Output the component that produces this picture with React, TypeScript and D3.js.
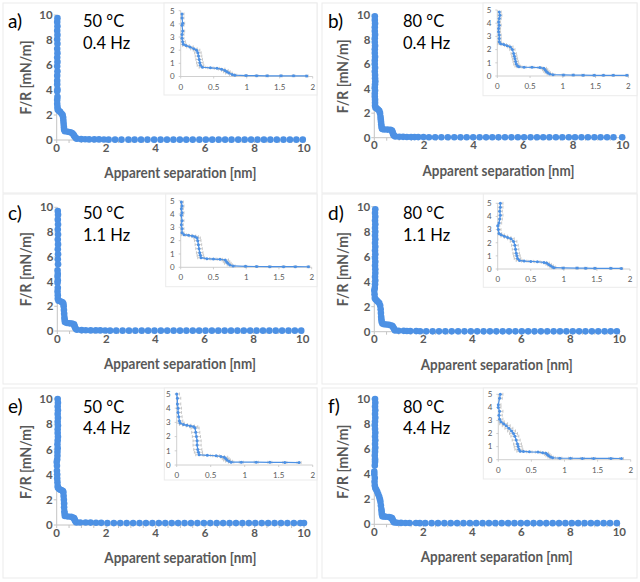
import React from 'react';
import * as d3 from 'd3';

type P = [number, number, number]; // separation [nm], F/R [mN/m], error [nm]

const panelLabels = ['a)', 'b)', 'c)', 'd)', 'e)', 'f)'];
const temperatures = ['50 °C', '80 °C', '50 °C', '80 °C', '50 °C', '80 °C'];
const frequencies = ['0.4 Hz', '0.4 Hz', '1.1 Hz', '1.1 Hz', '4.4 Hz', '4.4 Hz'];

const mainXTicks = [0, 2, 4, 6, 8, 10];
const mainYTicks = [0, 2, 4, 6, 8, 10];
const insetXTicks = [0, 0.5, 1, 1.5, 2];
const insetYTicks = [0, 1, 2, 3, 4, 5];
const insetXTickLabels = ['0', '0.5', '1', '1.5', '2'];

const curveA: P[] = [
  [0.03, 9.75, 0.03], [0.02, 9.45, 0.03], [0.03, 9.1, 0.03], [0.02, 8.75, 0.03], [0.03, 8.4, 0.03],
  [0.02, 8.05, 0.03], [0.03, 7.7, 0.03], [0.02, 7.3, 0.03], [0.03, 6.95, 0.03], [0.02, 6.6, 0.03],
  [0.03, 6.25, 0.03], [0.02, 5.9, 0.03], [0.03, 5.5, 0.03], [0.02, 5.15, 0.03], [0.02, 4.75, 0.03],
  [0.02, 4.45, 0.03], [0.03, 4.05, 0.03], [0.02, 3.9, 0.03], [0.03, 3.45, 0.03], [0.02, 3.2, 0.03],
  [0.02, 2.9, 0.03], [0.03, 2.65, 0.04], [0.04, 2.45, 0.04], [0.08, 2.35, 0.05], [0.14, 2.25, 0.05],
  [0.2, 2.1, 0.05], [0.24, 2.0, 0.05], [0.26, 1.8, 0.05], [0.27, 1.55, 0.05], [0.28, 1.3, 0.05],
  [0.29, 1.05, 0.05], [0.3, 0.85, 0.05], [0.33, 0.7, 0.05], [0.45, 0.66, 0.04], [0.55, 0.62, 0.04],
  [0.62, 0.56, 0.05], [0.67, 0.46, 0.05], [0.7, 0.36, 0.05], [0.73, 0.26, 0.05], [0.78, 0.15, 0.04],
  [0.82, 0.1, 0.03], [0.99, 0.07, 0.02], [1.15, 0.06, 0.02], [1.31, 0.05, 0.02], [1.52, 0.05, 0.02],
  [1.71, 0.05, 0.02], [1.91, 0.04, 0.02],
];

const curveB: P[] = [
  [0.02, 9.9, 0.02], [0.02, 9.6, 0.02], [0.03, 9.3, 0.02], [0.02, 9.0, 0.02], [0.02, 8.7, 0.02],
  [0.03, 8.4, 0.02], [0.02, 8.1, 0.02], [0.02, 7.8, 0.02], [0.03, 7.5, 0.02], [0.02, 7.2, 0.02],
  [0.02, 6.9, 0.02], [0.03, 6.6, 0.02], [0.02, 6.3, 0.02], [0.02, 6.0, 0.02], [0.03, 5.7, 0.02],
  [0.02, 5.4, 0.02], [0.03, 5.1, 0.03], [0.03, 4.85, 0.03], [0.04, 4.6, 0.03], [0.03, 4.35, 0.03],
  [0.02, 4.1, 0.03], [0.03, 3.85, 0.03], [0.02, 3.6, 0.03], [0.02, 3.35, 0.03], [0.03, 3.1, 0.03],
  [0.03, 2.85, 0.03], [0.03, 2.6, 0.03], [0.05, 2.45, 0.04], [0.1, 2.38, 0.04], [0.15, 2.3, 0.04],
  [0.2, 2.2, 0.04], [0.23, 2.0, 0.04], [0.25, 1.7, 0.04], [0.26, 1.5, 0.04], [0.27, 1.3, 0.04],
  [0.28, 1.1, 0.04], [0.29, 0.9, 0.04], [0.31, 0.75, 0.04], [0.33, 0.7, 0.03], [0.41, 0.67, 0.03],
  [0.53, 0.66, 0.03], [0.65, 0.64, 0.03], [0.71, 0.58, 0.04], [0.73, 0.48, 0.04], [0.75, 0.35, 0.04],
  [0.77, 0.25, 0.04], [0.8, 0.15, 0.04], [0.85, 0.1, 0.03], [1.01, 0.08, 0.02], [1.16, 0.07, 0.02],
  [1.31, 0.06, 0.02], [1.48, 0.05, 0.02], [1.62, 0.05, 0.02], [1.77, 0.05, 0.02], [1.98, 0.05, 0.02],
];

const curveC: P[] = [
  [0.02, 9.7, 0.03], [0.03, 9.4, 0.03], [0.02, 9.0, 0.03], [0.03, 8.6, 0.03], [0.02, 8.2, 0.03],
  [0.03, 7.8, 0.03], [0.02, 7.4, 0.03], [0.03, 7.0, 0.03], [0.02, 6.6, 0.03], [0.03, 6.2, 0.03],
  [0.02, 5.8, 0.03], [0.03, 5.4, 0.03], [0.01, 4.9, 0.03], [0.02, 4.6, 0.03], [0.01, 4.4, 0.03],
  [0.02, 4.1, 0.03], [0.01, 3.9, 0.03], [0.02, 3.5, 0.03], [0.01, 3.2, 0.03], [0.02, 2.9, 0.03],
  [0.02, 2.6, 0.03], [0.05, 2.45, 0.04], [0.12, 2.4, 0.05], [0.18, 2.35, 0.05], [0.22, 2.3, 0.05],
  [0.25, 2.2, 0.05], [0.26, 2.0, 0.05], [0.27, 1.7, 0.05], [0.28, 1.4, 0.05], [0.29, 1.1, 0.05],
  [0.3, 0.9, 0.05], [0.31, 0.72, 0.05], [0.4, 0.65, 0.04], [0.5, 0.62, 0.04], [0.6, 0.6, 0.04],
  [0.68, 0.55, 0.05], [0.7, 0.42, 0.05], [0.72, 0.3, 0.05], [0.75, 0.18, 0.04], [0.8, 0.1, 0.03],
  [0.99, 0.07, 0.02], [1.16, 0.06, 0.02], [1.36, 0.05, 0.02], [1.57, 0.05, 0.02], [1.75, 0.05, 0.02],
  [1.95, 0.04, 0.02],
];

const curveD: P[] = [
  [0.04, 9.8, 0.03], [0.03, 9.5, 0.03], [0.04, 9.2, 0.03], [0.03, 8.9, 0.03], [0.04, 8.6, 0.03],
  [0.03, 8.3, 0.03], [0.04, 8.0, 0.03], [0.03, 7.7, 0.03], [0.04, 7.4, 0.03], [0.03, 7.1, 0.03],
  [0.04, 6.8, 0.03], [0.03, 6.5, 0.03], [0.04, 6.2, 0.03], [0.03, 5.9, 0.03], [0.04, 5.6, 0.03],
  [0.03, 5.3, 0.03], [0.04, 5.0, 0.04], [0.04, 4.7, 0.04], [0.03, 4.4, 0.04], [0.04, 4.1, 0.04],
  [0.03, 3.8, 0.04], [0.02, 3.5, 0.04], [0.0, 3.3, 0.03], [0.01, 3.0, 0.04], [0.02, 2.7, 0.04],
  [0.05, 2.6, 0.05], [0.1, 2.5, 0.05], [0.15, 2.4, 0.05], [0.2, 2.3, 0.05], [0.24, 2.1, 0.05],
  [0.26, 1.8, 0.05], [0.27, 1.5, 0.05], [0.28, 1.2, 0.05], [0.29, 1.0, 0.05], [0.3, 0.8, 0.05],
  [0.33, 0.65, 0.05], [0.4, 0.6, 0.04], [0.5, 0.58, 0.04], [0.6, 0.55, 0.04], [0.7, 0.5, 0.04],
  [0.74, 0.45, 0.04], [0.77, 0.35, 0.04], [0.8, 0.25, 0.04], [0.83, 0.15, 0.04], [0.85, 0.1, 0.03],
  [0.99, 0.08, 0.02], [1.2, 0.07, 0.02], [1.33, 0.06, 0.02], [1.47, 0.05, 0.02], [1.71, 0.05, 0.02],
  [1.87, 0.04, 0.02],
];

const curveE: P[] = [
  [0.04, 10.0, 0.04], [0.05, 9.7, 0.04], [0.04, 9.4, 0.04], [0.05, 9.1, 0.04], [0.04, 8.8, 0.04],
  [0.05, 8.5, 0.04], [0.04, 8.2, 0.04], [0.05, 7.9, 0.04], [0.04, 7.6, 0.04], [0.04, 7.3, 0.04],
  [0.05, 7.0, 0.04], [0.04, 6.7, 0.04], [0.03, 6.4, 0.04], [0.04, 6.1, 0.04], [0.03, 5.8, 0.04],
  [0.03, 5.5, 0.04], [0.02, 5.2, 0.04], [0.0, 5.0, 0.04], [0.01, 4.7, 0.05], [0.01, 4.3, 0.05],
  [0.02, 4.0, 0.05], [0.02, 3.7, 0.05], [0.03, 3.4, 0.05], [0.04, 3.1, 0.05], [0.05, 2.95, 0.06],
  [0.1, 2.85, 0.06], [0.15, 2.8, 0.06], [0.2, 2.75, 0.06], [0.25, 2.7, 0.06], [0.27, 2.6, 0.06],
  [0.28, 2.3, 0.06], [0.29, 2.0, 0.06], [0.3, 1.7, 0.06], [0.3, 1.4, 0.06], [0.31, 1.1, 0.06],
  [0.32, 0.9, 0.06], [0.33, 0.72, 0.05], [0.45, 0.68, 0.05], [0.58, 0.65, 0.05], [0.65, 0.6, 0.05],
  [0.7, 0.55, 0.05], [0.72, 0.45, 0.05], [0.74, 0.35, 0.05], [0.77, 0.26, 0.05], [0.8, 0.2, 0.04],
  [0.95, 0.2, 0.03], [1.17, 0.2, 0.03], [1.37, 0.19, 0.03], [1.59, 0.18, 0.03], [1.8, 0.17, 0.03],
];

const curveF: P[] = [
  [0.03, 10.0, 0.04], [0.04, 9.7, 0.04], [0.03, 9.4, 0.04], [0.04, 9.1, 0.04], [0.03, 8.8, 0.04],
  [0.04, 8.5, 0.04], [0.03, 8.2, 0.04], [0.02, 7.9, 0.04], [0.03, 7.6, 0.04], [0.04, 7.3, 0.04],
  [0.03, 7.0, 0.04], [0.04, 6.7, 0.04], [0.03, 6.4, 0.04], [0.04, 6.1, 0.04], [0.03, 5.8, 0.04],
  [0.02, 5.5, 0.04], [0.03, 5.2, 0.04], [0.03, 5.0, 0.04], [0.02, 4.7, 0.04], [0.0, 4.2, 0.04],
  [0.0, 4.0, 0.04], [0.02, 3.7, 0.05], [0.01, 3.4, 0.05], [0.02, 3.1, 0.05], [0.04, 2.9, 0.05],
  [0.08, 2.75, 0.06], [0.12, 2.6, 0.06], [0.16, 2.4, 0.06], [0.2, 2.2, 0.06], [0.23, 2.0, 0.06],
  [0.25, 1.8, 0.06], [0.27, 1.5, 0.06], [0.29, 1.2, 0.06], [0.3, 1.0, 0.06], [0.31, 0.8, 0.06],
  [0.33, 0.65, 0.05], [0.38, 0.63, 0.04], [0.47, 0.6, 0.04], [0.6, 0.58, 0.04], [0.67, 0.53, 0.04],
  [0.72, 0.5, 0.04], [0.74, 0.4, 0.04], [0.76, 0.3, 0.04], [0.79, 0.2, 0.04], [0.82, 0.15, 0.04],
  [0.93, 0.12, 0.03], [1.09, 0.11, 0.03], [1.27, 0.1, 0.03], [1.44, 0.1, 0.03], [1.7, 0.1, 0.03],
  [1.86, 0.09, 0.03],
];

// far-field points (beyond the inset range)
const tailA = [2.1, 2.36, 2.62, 2.9, 3.15, 3.41, 3.67, 3.94, 4.2, 4.46, 4.72, 4.98, 5.24, 5.5, 5.77, 6.03, 6.29, 6.55, 6.81, 7.07, 7.34, 7.6, 7.86, 8.12, 8.38, 8.64, 8.9, 9.17, 9.43, 9.69, 9.95];
const tailB = [2.2, 2.45, 2.7, 2.96, 3.22, 3.47, 3.72, 3.98, 4.24, 4.5, 4.75, 5.0, 5.26, 5.52, 5.78, 6.03, 6.29, 6.55, 6.8, 7.05, 7.31, 7.57, 7.83, 8.08, 8.34, 8.6, 8.86, 9.11, 9.37, 9.63, 9.98];
const tailC = [2.15, 2.4, 2.66, 2.92, 3.18, 3.44, 3.7, 3.96, 4.22, 4.48, 4.74, 5.0, 5.26, 5.52, 5.78, 6.04, 6.3, 6.56, 6.82, 7.08, 7.34, 7.6, 7.86, 8.12, 8.38, 8.64, 8.9, 9.16, 9.42, 9.68, 9.94];
const tailD = [2.12, 2.38, 2.64, 2.9, 3.16, 3.42, 3.68, 3.94, 4.2, 4.46, 4.72, 4.98, 5.24, 5.5, 5.76, 6.02, 6.28, 6.54, 6.8, 7.06, 7.32, 7.58, 7.84, 8.1, 8.36, 8.62, 8.88, 9.14, 9.4, 9.65, 9.9];
const tailE = [2.05, 2.31, 2.57, 2.83, 3.09, 3.35, 3.61, 3.87, 4.13, 4.39, 4.65, 4.91, 5.17, 5.43, 5.69, 5.95, 6.21, 6.47, 6.73, 6.99, 7.25, 7.51, 7.77, 8.03, 8.29, 8.55, 8.81, 9.07, 9.33, 9.59, 9.85, 10.0];
const tailF = [2.08, 2.34, 2.6, 2.86, 3.12, 3.38, 3.64, 3.9, 4.16, 4.42, 4.68, 4.94, 5.2, 5.46, 5.72, 5.98, 6.24, 6.5, 6.76, 7.02, 7.28, 7.54, 7.8, 8.06, 8.32, 8.58, 8.84, 9.1, 9.36, 9.62, 9.9];
const tailLevels = [0.03, 0.04, 0.03, 0.03, 0.15, 0.09];

const curves = [curveA, curveB, curveC, curveD, curveE, curveF];
const tails = [tailA, tailB, tailC, tailD, tailE, tailF];

// ---------- layout (pixels) ----------
const panelOrigins = [[0, 0], [320, 0], [0, 190], [320, 190], [0, 385], [320, 385]];
const panelBoxes = [
  { x: 3, y: 3, w: 314, h: 190 }, { x: 2, y: 3, w: 315, h: 190 },
  { x: 3, y: 4, w: 314, h: 190 }, { x: 2, y: 4, w: 315, h: 190 },
  { x: 3, y: 3, w: 314, h: 190 }, { x: 2, y: 3, w: 315, h: 190 },
];
const mainFrames = [
  { x0: 56.7, x1: 304, y0: 140, y1: 15, tb: 27.5 },
  { x0: 54.3, x1: 302.7, y0: 137.7, y1: 15, tb: 27.5 },
  { x0: 57.3, x1: 302.7, y0: 141, y1: 17.3, tb: 29.5 },
  { x0: 54.3, x1: 299.3, y0: 141.7, y1: 16.7, tb: 29.5 },
  { x0: 56.7, x1: 304, y0: 140, y1: 14, tb: 28.3 },
  { x0: 54.3, x1: 299.3, y0: 139.3, y1: 14, tb: 28.3 },
];
const insetFrames = [
  { x0: 180.7, x1: 312.7, y0: 76.5, y1: 10.7, left: 164, bottom: 95 },
  { x0: 177.3, x1: 308.3, y0: 76, y1: 10, left: 163, bottom: 95.7 },
  { x0: 180.7, x1: 311.7, y0: 77.3, y1: 10.7, left: 165.7, bottom: 96.7 },
  { x0: 177.7, x1: 310, y0: 79, y1: 13.3, left: 163.3, bottom: 97.3 },
  { x0: 176.7, x1: 312.7, y0: 80, y1: 9, left: 164.3, bottom: 95 },
  { x0: 178.3, x1: 310.7, y0: 74.7, y1: 9.3, left: 163.3, bottom: 94 },
];

const BLUE = '#4d91e4';
const AXIS = '#c4c4c4';
const TXT = '#595959';
const FONT = "Lato, 'Open Sans', 'DejaVu Sans', sans-serif";

function Panel({ i }: { i: number }) {
  const [ox, oy] = panelOrigins[i];
  const box = panelBoxes[i];
  const mf = mainFrames[i];
  const inf = insetFrames[i];
  const pts = curves[i];
  const tailPts: P[] = tails[i].map((x) => [x, tailLevels[i], 0.02]);
  const all = [...pts, ...tailPts];

  const xs = d3.scaleLinear().domain([0, 10]).range([mf.x0, mf.x1]);
  const ys = d3.scaleLinear().domain([0, 10]).range([mf.y0, mf.y1]);
  const ixs = d3.scaleLinear().domain([0, 2]).range([inf.x0, inf.x1]);
  const iys = d3.scaleLinear().domain([0, 5]).range([inf.y0, inf.y1]);

  const mainLine = d3.line<P>().x((d) => xs(d[0])).y((d) => ys(d[1]));
  const insetPts = pts.filter((p) => p[0] <= 2 && p[1] <= 5.05);
  const insetLine = d3.line<P>().x((d) => ixs(d[0])).y((d) => iys(d[1]));
  const minorX = d3.range(0, 10.001, 0.5);

  return (
    <g transform={`translate(${ox},${oy})`}>
      <rect x={box.x} y={box.y} width={box.w} height={box.h} fill="#fff" stroke="#ebebeb" strokeWidth={1} />

      {/* main axes */}
      <line x1={xs(0)} x2={xs(10)} y1={ys(0)} y2={ys(0)} stroke={AXIS} strokeWidth={1} />
      <line x1={xs(0)} x2={xs(0)} y1={ys(0)} y2={ys(10)} stroke={AXIS} strokeWidth={1} />
      {minorX.map((t) => (
        <line key={'mx' + t} x1={xs(t)} x2={xs(t)} y1={ys(0)} y2={ys(0) + 3} stroke={AXIS} />
      ))}
      {mainYTicks.map((t) => (
        <line key={'my' + t} x1={xs(0) - 3} x2={xs(0)} y1={ys(t)} y2={ys(t)} stroke={AXIS} />
      ))}
      {mainXTicks.map((t) => (
        <text key={'xl' + t} x={xs(t)} y={ys(0) + 11.5} textAnchor="middle" fontSize={11.5} fontWeight={700} fill={TXT} fontFamily={FONT}>{t}</text>
      ))}
      {mainYTicks.map((t) => (
        <text key={'yl' + t} x={xs(0) - 4} y={ys(t)} dy="0.36em" textAnchor="end" fontSize={11.5} fontWeight={700} fill={TXT} fontFamily={FONT}>{t}</text>
      ))}

      {/* main data */}
      <path d={mainLine(pts) || ''} fill="none" stroke={BLUE} strokeWidth={2} />
      {all.map((p, k) => (
        <circle key={'m' + k} cx={xs(p[0])} cy={ys(p[1])} r={3.3} fill={BLUE} />
      ))}

      {/* axis titles */}
      <text x={(mf.x0 + mf.x1) / 2} y={mf.y0 + 38} textAnchor="middle" fontSize={16} fontWeight={700} fill={TXT} fontFamily={FONT} textLength={152} lengthAdjust="spacingAndGlyphs">Apparent separation [nm]</text>
      <text transform={`translate(${mf.x0 - 26},${(mf.y0 + mf.y1) / 2}) rotate(-90)`} textAnchor="middle" fontSize={15.5} fontWeight={700} fill={TXT} fontFamily={FONT} textLength={74} lengthAdjust="spacingAndGlyphs">F/R [mN/m]</text>

      {/* panel annotations */}
      <text x={8} y={mf.tb} fontSize={19} fill="#000" fontFamily={FONT}>{panelLabels[i]}</text>
      <text x={83} y={mf.tb - 0.5} fontSize={16.5} fill="#000" fontFamily={FONT}>{temperatures[i]}</text>
      <text x={83} y={mf.tb + 21} fontSize={16.5} fill="#000" fontFamily={FONT}>{frequencies[i]}</text>

      {/* inset */}
      <rect x={inf.left} y={box.y} width={box.x + box.w - inf.left} height={inf.bottom - box.y} fill="#fff" stroke="#ebebeb" strokeWidth={1} />
      <line x1={ixs(0)} x2={ixs(2)} y1={iys(0)} y2={iys(0)} stroke={AXIS} strokeWidth={0.8} />
      <line x1={ixs(0)} x2={ixs(0)} y1={iys(0)} y2={iys(5)} stroke={AXIS} strokeWidth={0.8} />
      {insetXTicks.map((t) => (
        <line key={'ix' + t} x1={ixs(t)} x2={ixs(t)} y1={iys(0)} y2={iys(0) + 2} stroke={AXIS} strokeWidth={0.8} />
      ))}
      {insetYTicks.map((t) => (
        <line key={'iy' + t} x1={ixs(0) - 2} x2={ixs(0)} y1={iys(t)} y2={iys(t)} stroke={AXIS} strokeWidth={0.8} />
      ))}
      {insetXTicks.map((t, k) => (
        <text key={'ixl' + t} x={ixs(t)} y={iys(0) + 13} textAnchor="middle" fontSize={8} fill={TXT} fontFamily={FONT}>{insetXTickLabels[k]}</text>
      ))}
      {insetYTicks.map((t) => (
        <text key={'iyl' + t} x={ixs(0) - 6} y={iys(t)} dy="0.35em" textAnchor="end" fontSize={8} fill={TXT} fontFamily={FONT}>{t}</text>
      ))}
      {insetPts.map((p, k) => (
        <g key={'e' + k} stroke="#b8b8b8" strokeWidth={0.7}>
          <line x1={ixs(Math.max(0, p[0] - p[2]))} x2={ixs(p[0] + p[2])} y1={iys(p[1])} y2={iys(p[1])} />
          <line x1={ixs(p[0] + p[2])} x2={ixs(p[0] + p[2])} y1={iys(p[1]) - 1.5} y2={iys(p[1]) + 1.5} />
          {p[0] - p[2] > 0 && (
            <line x1={ixs(p[0] - p[2])} x2={ixs(p[0] - p[2])} y1={iys(p[1]) - 1.5} y2={iys(p[1]) + 1.5} />
          )}
        </g>
      ))}
      <path d={insetLine(insetPts) || ''} fill="none" stroke={BLUE} strokeWidth={1.2} />
      {insetPts.map((p, k) => (
        <circle key={'i' + k} cx={ixs(p[0])} cy={iys(p[1])} r={1.5} fill={BLUE} />
      ))}
    </g>
  );
}

export default function App() {
  return (
    <svg width={640} height={582} style={{ position: 'absolute', left: 0, top: 0, background: '#fff' }}>
      <rect x={0} y={0} width={640} height={582} fill="#fff" />
      {curves.map((_, i) => (
        <Panel key={i} i={i} />
      ))}
    </svg>
  );
}
